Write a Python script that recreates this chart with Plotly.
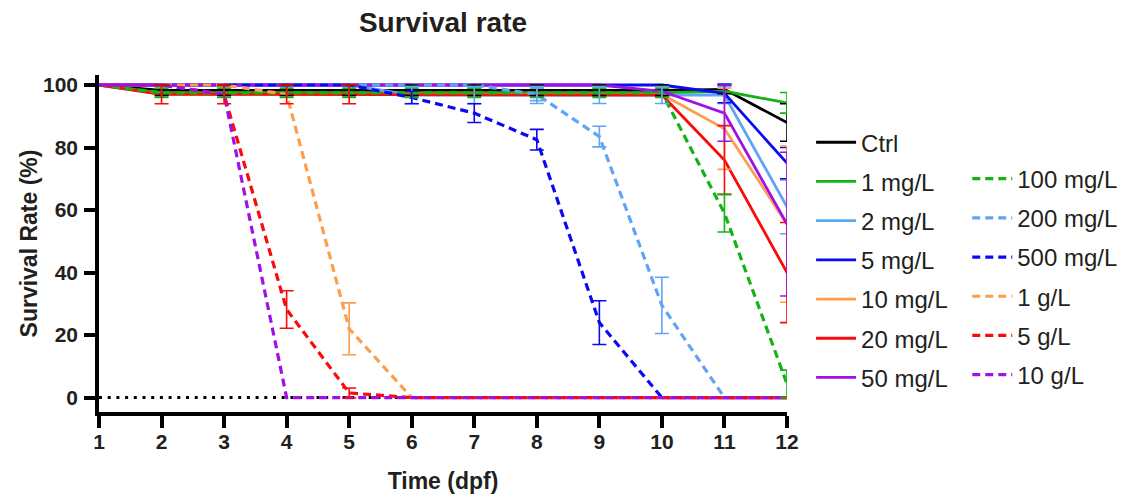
import plotly.graph_objects as go

days = [1, 2, 3, 4, 5, 6, 7, 8, 9, 10, 11, 12]

series_names = ["Ctrl", "1 mg/L", "2 mg/L", "5 mg/L", "10 mg/L", "20 mg/L", "50 mg/L",
                "100 mg/L", "200 mg/L", "500 mg/L", "1 g/L", "5 g/L", "10 g/L"]

ctrl      = [100, 98.3, 98.3, 98.3, 98.3, 98.3, 98.3, 98.3, 98.3, 98.3, 98.6, 88]
mg1       = [100, 97.5, 97.5, 97.5, 97.5, 97.5, 97.5, 97.5, 97.5, 97.5, 98.0, 94.3]
mg2       = [100, 100, 100, 100, 100, 96.8, 96.8, 96.8, 96.8, 96.8, 96.8, 61]
mg5       = [100, 100, 100, 100, 100, 100, 100, 100, 100, 100, 97.3, 75]
mg10      = [100, 97, 97, 97, 97, 97, 97, 97, 97, 97, 86, 55.5]
mg20      = [100, 97, 97, 97, 97, 96.8, 96.8, 96.8, 96.8, 96.8, 76, 40]
mg50      = [100, 100, 100, 100, 100, 100, 100, 100, 100, 98, 91, 55.5]
mg100     = [100, 97.5, 97.5, 97.5, 97.5, 97.5, 97.5, 97.5, 97.5, 97.5, 59, 4.4]
mg200     = [100, 100, 100, 100, 100, 100, 100, 97, 83.5, 29.5, 0, 0]
mg500     = [100, 100, 100, 100, 100, 96, 91, 82.5, 24, 0, 0, 0]
g1        = [100, 100, 100, 97, 22, 0, 0, 0, 0, 0, 0, 0]
g5        = [100, 100, 97, 28.2, 1.5, 0, 0, 0, 0, 0, 0, 0]
g10       = [100, 100, 97, 0, 0, 0, 0, 0, 0, 0, 0, 0]

ctrl_err  = [0, 1.7, 1.7, 1.7, 1.7, 1.7, 1.7, 1.7, 1.7, 1.7, 1.4, 6]
mg1_err   = [0, 1.5, 1.5, 1.5, 1.5, 1.5, 1.5, 1.5, 1.5, 1.5, 0, 3.3]
mg2_err   = [0, 0, 0, 0, 0, 2.7, 2.7, 2.7, 2.7, 2.7, 2.7, 8.6]
mg5_err   = [0, 0, 0, 0, 0, 0, 0, 0, 0, 0, 3, 5]
mg10_err  = [0, 0, 0, 0, 0, 0, 0, 0, 0, 0, 13, 25]
mg20_err  = [0, 3, 3, 3, 3, 0, 0, 0, 0, 0, 11, 16]
mg50_err  = [0, 0, 0, 0, 0, 0, 0, 0, 0, 0, 9, 23]
mg100_err = [0, 0, 0, 0, 0, 0, 0, 0, 0, 0, 6, 4.4]
mg200_err = [0, 0, 0, 0, 0, 0, 0, 2, 3.3, 9, 0, 0]
mg500_err = [0, 0, 0, 0, 0, 2, 3, 3.3, 7, 0, 0, 0]
g1_err    = [0, 0, 0, 0, 8.3, 0, 0, 0, 0, 0, 0, 0]
g5_err    = [0, 0, 0, 6, 1.6, 0, 0, 0, 0, 0, 0, 0]
g10_err   = [0, 0, 0, 0, 0, 0, 0, 0, 0, 0, 0, 0]

values = [ctrl, mg1, mg2, mg5, mg10, mg20, mg50, mg100, mg200, mg500, g1, g5, g10]
errors = [ctrl_err, mg1_err, mg2_err, mg5_err, mg10_err, mg20_err, mg50_err,
          mg100_err, mg200_err, mg500_err, g1_err, g5_err, g10_err]
colors = ["#000000", "#12b312", "#5ea6f5", "#0a0af2", "#fd9e4c", "#fa0a0a", "#a010e6",
          "#12b312", "#5ea6f5", "#0a0af2", "#fd9e4c", "#fa0a0a", "#a010e6"]
dashed = [False] * 7 + [True] * 6

TXT = "#231f20"
FONT = "Liberation Sans, Arial, sans-serif"

fig = go.Figure()

# zero reference dotted line
fig.add_trace(go.Scatter(x=[days[0], days[-1]], y=[0, 0], mode="lines",
                         line=dict(color="#000000", width=3, dash="3px,5.7px"),
                         showlegend=False, hoverinfo="skip"))

for i, (name, v, c, d) in enumerate(zip(series_names, values, colors, dashed)):
    fig.add_trace(go.Scatter(
        x=days, y=v, mode="lines", name=name,
        line=dict(color=c, width=3.2 if d else 2.8, dash="8px,5px" if d else "solid"),
        legend="legend2" if d else "legend",
        legendgroup=name,
        cliponaxis=False,
    ))

for name, v, e, c in zip(series_names, values, errors, colors):
    xs = [x for x, ee in zip(days, e) if ee > 0]
    ys = [y for y, ee in zip(v, e) if ee > 0]
    es = [ee for ee in e if ee > 0]
    if not xs:
        continue
    fig.add_trace(go.Scatter(
        x=xs, y=ys, mode="markers", marker=dict(size=1, opacity=0, color=c),
        error_y=dict(type="data", array=es, visible=True, color=c, thickness=1.6, width=7),
        showlegend=False, hoverinfo="skip", cliponaxis=False,
    ))

fig.update_layout(
    width=1127, height=501,
    margin=dict(l=91, r=348, t=67, b=97, autoexpand=False),
    paper_bgcolor="white", plot_bgcolor="white",
    font=dict(family=FONT, color=TXT),
    title=dict(text="<b>Survival rate</b>", x=0.5, xref="paper", xanchor="center",
               y=0.991, yref="container", yanchor="top",
               font=dict(size=28, family=FONT, color=TXT)),
    legend=dict(x=1.035, y=0.866, xanchor="left", yanchor="top",
                font=dict(size=24, family=FONT, color=TXT),
                bgcolor="rgba(0,0,0,0)", tracegroupgap=5, itemwidth=40),
    legend2=dict(x=1.262, y=0.758, xanchor="left", yanchor="top",
                 font=dict(size=24, family=FONT, color=TXT),
                 bgcolor="rgba(0,0,0,0)", tracegroupgap=5, itemwidth=40),
    xaxis=dict(range=[1, 12], tickvals=days, ticktext=[f"<b>{d}</b>" for d in days],
               showline=True, linewidth=3.5, linecolor="#000000",
               ticks="outside", ticklen=12, tickwidth=3.5, tickcolor="#000000",
               showgrid=False, zeroline=False, automargin=False, ticklabelstandoff=-4,
               tickfont=dict(size=21, family=FONT, color=TXT),
               title=dict(text="<b>Time (dpf)</b>", font=dict(size=23, family=FONT, color=TXT),
                          standoff=22)),
    yaxis=dict(range=[-4.6, 103.2], tickvals=[0, 20, 40, 60, 80, 100],
               ticktext=[f"<b>{t}</b>" for t in [0, 20, 40, 60, 80, 100]],
               showline=True, linewidth=3.5, linecolor="#000000",
               ticks="outside", ticklen=11, tickwidth=3.5, tickcolor="#000000",
               showgrid=False, zeroline=False, automargin=False, ticklabelstandoff=2,
               tickfont=dict(size=21, family=FONT, color=TXT),
               title=dict(text="<b>Survival Rate (%)</b>", font=dict(size=23, family=FONT, color=TXT),
                          standoff=0)),
)

fig.write_html("out.html")
